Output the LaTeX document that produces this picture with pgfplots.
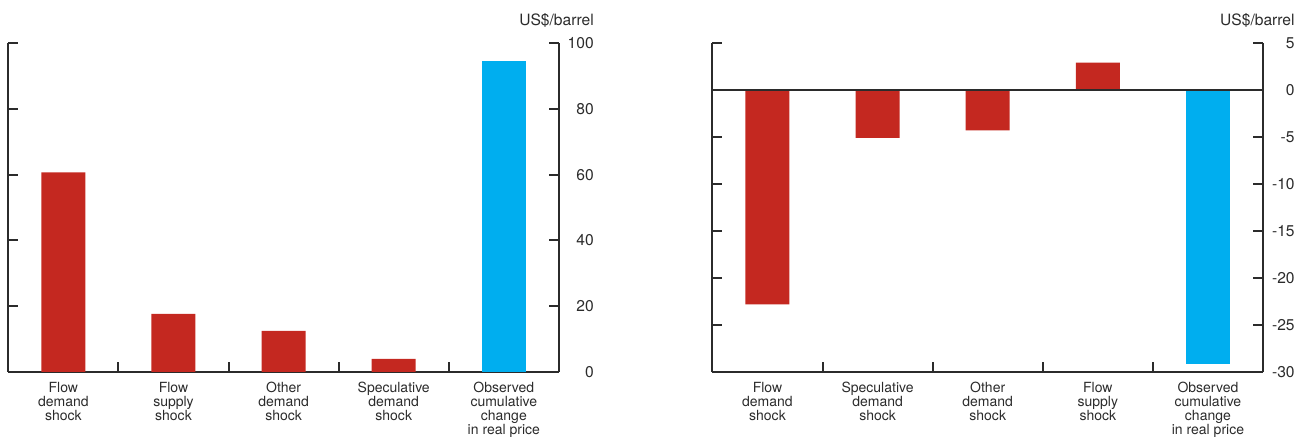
\documentclass[border=0pt]{standalone}
\usepackage{pgfplots}
\pgfplotsset{compat=1.18}
\usepackage{fontspec}
\setmainfont{TeX Gyre Heros}

\definecolor{shockred}{RGB}{196,40,32}
\definecolor{obsblue}{RGB}{0,174,239}
\definecolor{axisgray}{RGB}{43,43,43}

% shared look of both panels
\pgfplotsset{
  oilbars/.style={
    scale only axis, width=275.3pt, height=164.5pt,
    xmin=0.5, xmax=5.5,
    axis x line*=bottom, axis y line*=box,
    yticklabel pos=right,
    tick align=inside,
    axis line style={line width=1pt, axisgray},
    tick style={line width=1pt, axisgray},
    major tick length=5pt,
    xtick={1.5,2.5,3.5,4.5}, xticklabels={},
    extra x ticks={1,2,3,4,5},
    extra x tick style={major tick length=0pt},
    xticklabel style={align=center, anchor=north, inner sep=0pt, yshift=-5pt,
      font=\fontsize{7}{6.9}\selectfont, text=axisgray},
    yticklabel style={anchor=east, inner sep=0pt,
      font=\fontsize{7.8}{8}\selectfont, text=axisgray},
    /pgf/number format/assume math mode=true,
    clip=false,
  },
  shock/.style={ybar, bar width=22pt, bar shift=0pt, fill=shockred, draw=none},
  observed/.style={ybar, bar width=22pt, bar shift=0pt, fill=obsblue, draw=none},
}

\begin{document}
\begin{tikzpicture}
\useasboundingbox (0,0) rectangle (650.5pt,218.5pt);

% left panel
\begin{axis}[oilbars,
    at={(4.15pt,32.5pt)}, anchor=south west,
    ymin=0, ymax=100, ytick={0,20,...,100},
    yticklabel style={xshift=17.6pt},
    extra x tick labels={{Flow\\demand\\shock},{Flow\\supply\\shock},{Other\\demand\\shock},
      {Speculative\\demand\\shock},{Observed\\cumulative\\change\\in real price}},
  ]
  \addplot[shock] coordinates {(1,60.7) (2,17.7) (3,12.5) (4,4.0)};
  \addplot[observed] coordinates {(5,94.5)};
  \node[anchor=base east, inner sep=0pt, font=\fontsize{7.8}{8}\selectfont, text=axisgray]
    at ([xshift=17.6pt, yshift=8.5pt]rel axis cs:1,1) {US\$/barrel};
\end{axis}

% right panel
\begin{axis}[oilbars,
    at={(356.2pt,32.5pt)}, anchor=south west,
    ymin=-30, ymax=5, ytick={-30,-25,...,5},
    yticklabel style={xshift=16pt},
    extra x tick labels={{Flow\\demand\\shock},{Speculative\\demand\\shock},{Other\\demand\\shock},
      {Flow\\supply\\shock},{Observed\\cumulative\\change\\in real price}},
  ]
  \addplot[shock] coordinates {(1,-22.8) (2,-5.1) (3,-4.3) (4,2.9)};
  \addplot[observed] coordinates {(5,-29.2)};
  \draw[axisgray, line width=0.85pt] (axis cs:0.5,0) -- (axis cs:5.5,0);
  \node[anchor=base east, inner sep=0pt, font=\fontsize{7.8}{8}\selectfont, text=axisgray]
    at ([xshift=16pt, yshift=8.5pt]rel axis cs:1,1) {US\$/barrel};
\end{axis}
\end{tikzpicture}
\end{document}
